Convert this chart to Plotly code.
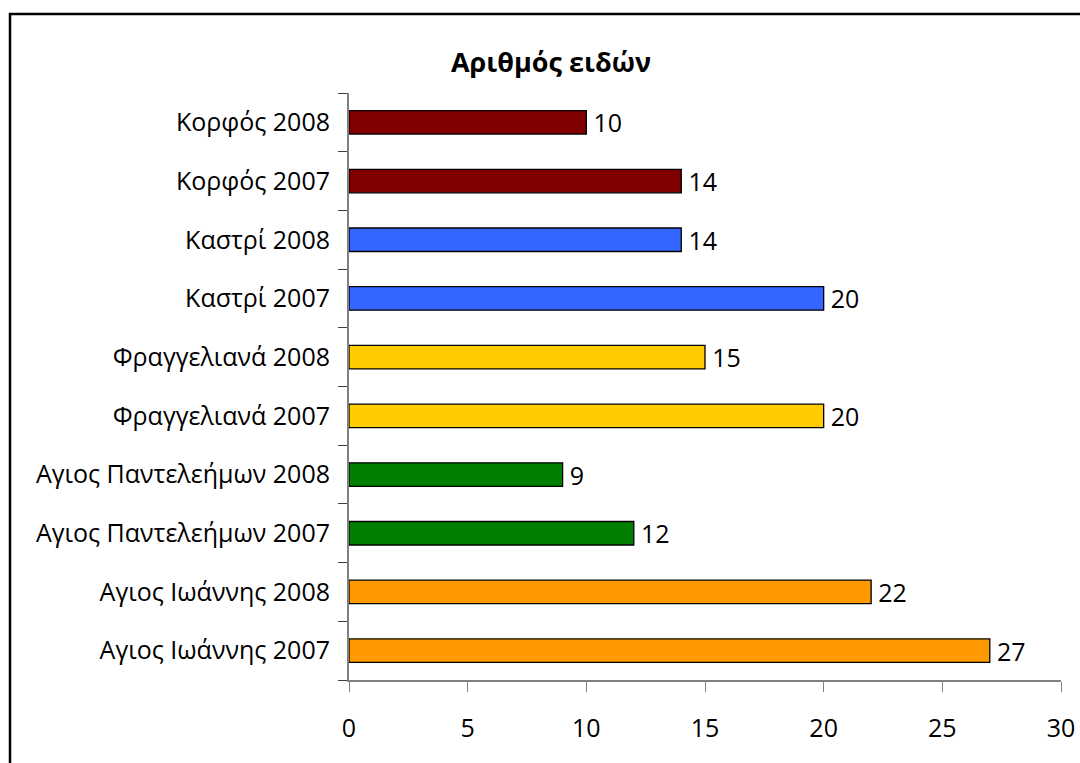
import plotly.graph_objects as go

# Species counts per site and year (listed bottom to top)
sites = [
    "Αγιος Ιωάννης 2007", "Αγιος Ιωάννης 2008",
    "Αγιος Παντελεήμων 2007", "Αγιος Παντελεήμων 2008",
    "Φραγγελιανά 2007", "Φραγγελιανά 2008",
    "Καστρί 2007", "Καστρί 2008",
    "Κορφός 2007", "Κορφός 2008",
]
species = [27, 22, 12, 9, 20, 15, 20, 14, 14, 10]
colors = [
    "#FF9900", "#FF9900",
    "#008000", "#008000",
    "#FFCC00", "#FFCC00",
    "#3366FF", "#3366FF",
    "#800000", "#800000",
]
x_ticks = [0, 5, 10, 15, 20, 25, 30]

FONT = "Open Sans, Noto Sans, sans-serif"
FS = 25

fig = go.Figure(go.Bar(
    x=species,
    y=sites,
    orientation="h",
    marker=dict(color=colors, line=dict(color="#000000", width=1.3)),
    width=0.4,
    text=["\u2009" + str(v) for v in species],
    textposition="outside",
    constraintext="none",
    cliponaxis=False,
    textfont=dict(family=FONT, size=FS, color="#000000"),
))

W, H = 1080, 763
ml, mr, mt, mb = 349, 19, 93, 83
pw, ph = W - ml - mr, H - mt - mb

def px_to_paper_x(px):
    return (px - ml) / pw

def px_to_paper_y(py):
    return (H - mb - py) / ph

fig.update_layout(
    width=W, height=H,
    margin=dict(l=ml, r=mr, t=mt, b=mb, autoexpand=False),
    paper_bgcolor="white",
    plot_bgcolor="white",
    showlegend=False,
    font=dict(family=FONT, size=FS, color="#000000"),
    title=dict(
        text="<b>Αριθμός ειδών</b>",
        x=px_to_paper_x(551), xref="paper", xanchor="center",
        y=(H - 63) / H, yanchor="middle",
        font=dict(family=FONT, size=27, color="#000000"),
    ),
    xaxis=dict(
        range=[0, 30],
        tickvals=x_ticks,
        automargin=False,
        ticks="outside", ticklen=10, tickcolor="#808080", tickwidth=1,
        showline=True, linecolor="#808080", linewidth=2,
        showgrid=False, zeroline=False,
        tickfont=dict(family=FONT, size=FS),
        ticklabelstandoff=15,
    ),
    yaxis=dict(
        categoryorder="array", categoryarray=sites,
        automargin=False,
        tickson="boundaries",
        ticks="outside", ticklen=9, tickcolor="#404040", tickwidth=1,
        showline=True, linecolor="#808080", linewidth=2,
        showgrid=False, zeroline=False,
        tickfont=dict(family=FONT, size=FS),
        ticklabelstandoff=12,
    ),
    bargap=0.6,
    shapes=[dict(
        type="rect", xref="paper", yref="paper",
        x0=px_to_paper_x(10), x1=px_to_paper_x(1100),
        y0=px_to_paper_y(790), y1=px_to_paper_y(14),
        line=dict(color="#000000", width=2.5),
        fillcolor="rgba(0,0,0,0)", layer="below",
    )],
)

fig.write_html("out.html")
